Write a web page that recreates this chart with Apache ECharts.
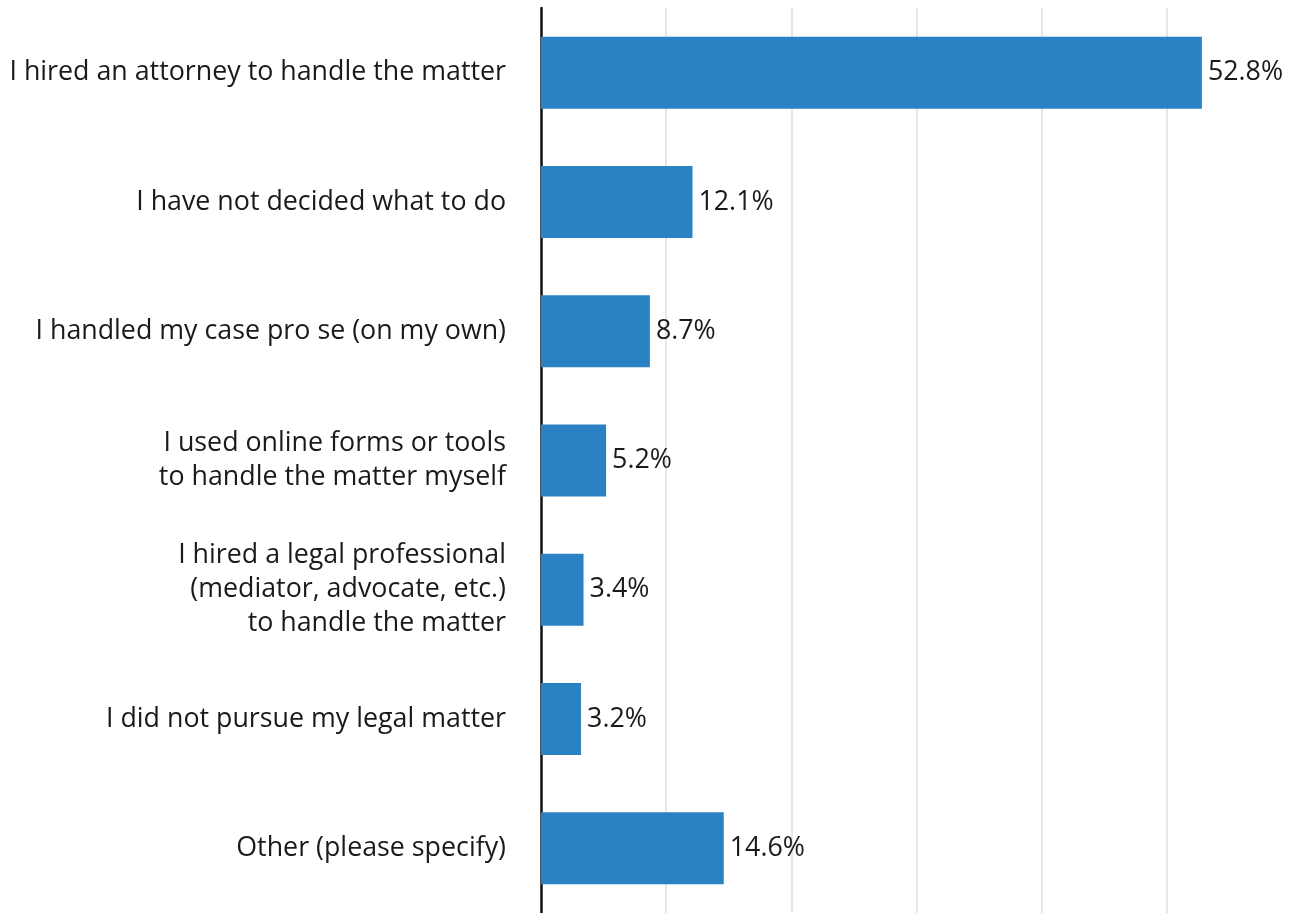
<!DOCTYPE html>
<html>
<head>
<meta charset="utf-8">
<script src="https://cdn.jsdelivr.net/npm/echarts@6/dist/echarts.min.js"></script>
<style>
  html, body { margin: 0; padding: 0; background: #ffffff; }
  #chart { width: 1295px; height: 913px; }
</style>
</head>
<body>
<div id="chart"></div>
<script>
// Survey responses: what people did about their legal matter
const categories = [
  'I hired an attorney to handle the matter',
  'I have not decided what to do',
  'I handled my case pro se (on my own)',
  'I used online forms or tools\nto handle the matter myself',
  'I hired a legal professional\n(mediator, advocate, etc.)\nto handle the matter',
  'I did not pursue my legal matter',
  'Other (please specify)'
];
const shares = [52.8, 12.1, 8.7, 5.2, 3.4, 3.2, 14.6];

const axisMin = 0;
const axisMax = 60;
const axisStep = 10;

const FONT = '"Open Sans", "Noto Sans", sans-serif';

const chart = echarts.init(document.getElementById('chart'), null, { renderer: 'canvas' });
chart.setOption({
  animation: false,
  backgroundColor: '#ffffff',
  grid: { left: 541, right: 3, top: 8, height: 909, containLabel: false },
  xAxis: {
    type: 'value',
    min: axisMin,
    max: axisMax,
    interval: axisStep,
    axisLine: { show: false },
    axisTick: { show: false },
    axisLabel: { show: false },
    splitLine: {
      show: true,
      showMinLine: false,
      showMaxLine: false,
      lineStyle: { color: '#e6e6e6', width: 2 }
    }
  },
  yAxis: {
    type: 'category',
    data: categories,
    inverse: true,
    axisLine: { show: true, lineStyle: { color: '#111111', width: 2.5 } },
    axisTick: { show: false },
    axisLabel: {
      margin: 35,
      color: '#1a1a1a',
      fontFamily: FONT,
      fontSize: 26.8,
      lineHeight: 34,
      align: 'right'
    }
  },
  series: [{
    type: 'bar',
    data: shares,
    barWidth: 72,
    itemStyle: { color: '#2a82c5' },
    label: {
      show: true,
      position: 'right',
      distance: 6,
      color: '#1a1a1a',
      fontFamily: FONT,
      fontSize: 26.8,
      formatter: p => p.value.toFixed(1) + '%'
    }
  }]
});
</script>
</body>
</html>
